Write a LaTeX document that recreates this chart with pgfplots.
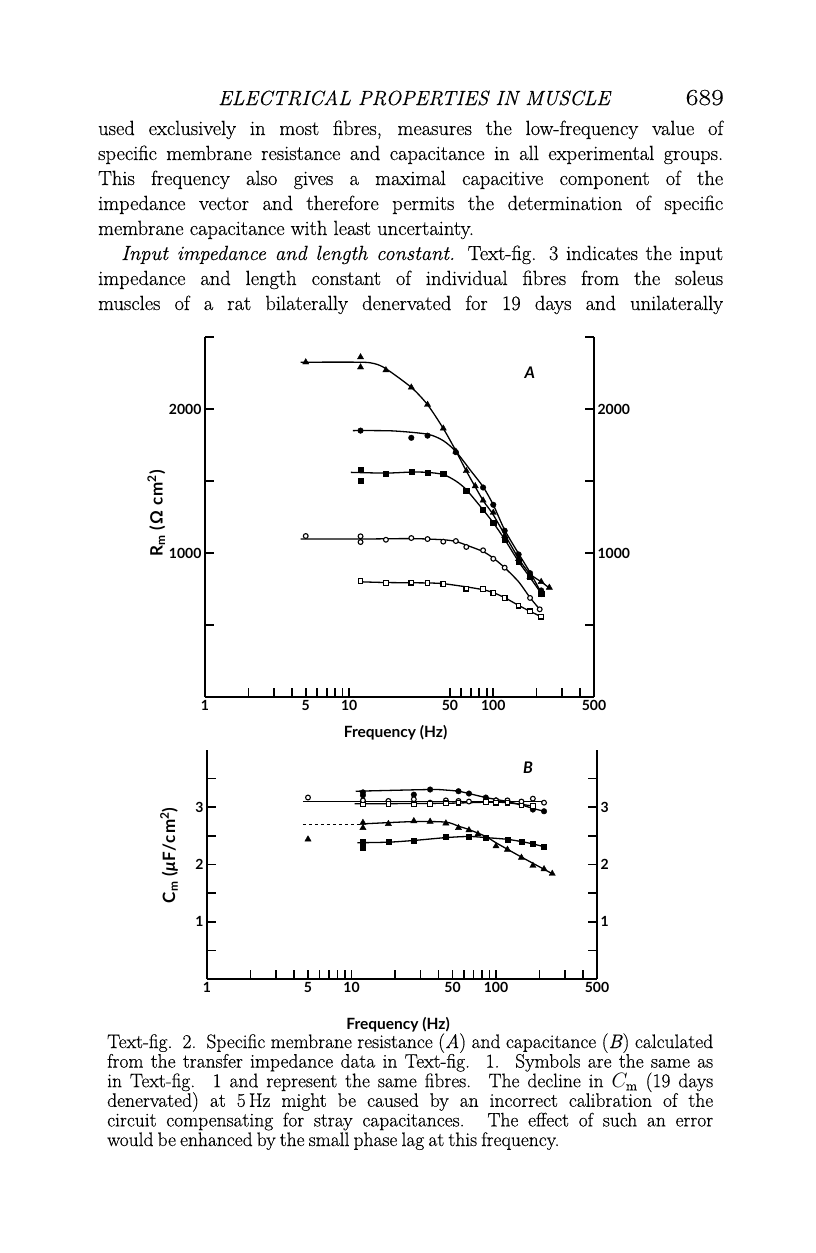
\documentclass[border=0pt]{standalone}
\usepackage{fontspec}
\usepackage{pgfplots}
\pgfplotsset{compat=1.18}
\setmainfont{Latin Modern Roman}[FakeBold=0.35]
\newfontfamily\capfont{Latin Modern Roman}[FakeBold=0.35, WordSpace=0.7]
\newfontfamily\pagenofont{Latin Modern Roman}[FakeBold=0.35, FakeStretch=1.2]
\newfontfamily\chartfont{Lato}
\newfontfamily\ylabfont{Lato}[LetterSpace=6]

% one line of justified body text: x, baseline y, width, text
\newcommand\jline[4]{\node[anchor=base west,inner sep=0pt] at (#1pt,-#2pt)
  {\fontsize{20.5}{25}\selectfont\hbox to #3pt{#4}};}
\newcommand\capline[4]{\node[anchor=base west,inner sep=0pt] at (#1pt,-#2pt)
  {\capfont\fontsize{19.5}{20}\selectfont\hbox to #3pt{#4}};}
\newcommand\cf{\chartfont\bfseries\fontsize{14}{14}\selectfont}
\newcommand\lf{\chartfont\bfseries\fontsize{15.5}{15.5}\selectfont}
\newcommand\yf{\ylabfont\bfseries\fontsize{17}{17}\selectfont}

\pgfplotsset{
  crv/.style={black, line width=1.3pt, smooth, tension=0.45, no marks},
  tri/.style={only marks, mark=triangle*, mark size=3.6pt, mark options={fill=black, draw=black}},
  dot/.style={only marks, mark=*, mark size=2.8pt, mark options={fill=black, draw=black}},
  sqr/.style={only marks, mark=square*, mark size=2.6pt, mark options={fill=black, draw=black}},
  odot/.style={only marks, mark=*, mark size=2.4pt, mark options={fill=white, draw=black, line width=1.1pt}},
  osqr/.style={only marks, mark=square*, mark size=2.3pt, mark options={fill=white, draw=black, line width=1.1pt}},
}

\begin{document}
\begin{tikzpicture}
\path[use as bounding box, fill=white] (0pt,0pt) rectangle (816pt,-1253pt);

% running head and text
\node[anchor=base west,inner sep=0pt] at (218pt,-105pt)
  {\fontsize{20.5}{20}\selectfont\itshape ELECTRICAL PROPERTIES IN MUSCLE};
\node[anchor=base east,inner sep=0pt] at (724pt,-105pt)
  {\pagenofont\fontsize{23}{20}\selectfont 689};
\jline{98}{135}{625}{used exclusively in most fibres, measures the low-frequency value of}
\jline{98}{160}{625}{specific membrane resistance and capacitance in all experimental groups.}
\jline{98}{185}{625}{This frequency also gives a maximal capacitive component of the}
\jline{98}{210}{625}{impedance vector and therefore permits the determination of specific}
\jline{98}{235}{625}{membrane capacitance with least uncertainty.\hfil}
\jline{121}{260}{602}{\textit{Input impedance and length constant.} Text-fig. 3 indicates the input}
\jline{98}{285}{625}{impedance and length constant of individual fibres from the soleus}
\jline{98}{310}{625}{muscles of a rat bilaterally denervated for 19 days and unilaterally}

% caption
\capline{107}{1048}{606}{Text-fig. 2. Specific membrane resistance (\textit{A}) and capacitance (\textit{B}) calculated}
\capline{107}{1067.6}{606}{from the transfer impedance data in Text-fig. 1. Symbols are the same as}
\capline{107}{1087.2}{606}{in Text-fig. 1 and represent the same fibres. The decline in $C_{\mathrm{m}}$ (19 days}
\capline{107}{1106.8}{606}{denervated) at 5\,Hz might be caused by an incorrect calibration of the}
\capline{107}{1126.4}{606}{circuit compensating for stray capacitances. The effect of such an error}
\capline{107}{1146}{606}{would be enhanced by the small phase lag at this frequency.\hfil}

% ---------------- A: membrane resistance
\begin{axis}[at={(205pt,-697pt)}, anchor=south west,
  scale only axis, width=389pt, height=360pt,
  xmode=log, xmin=1, xmax=500, ymin=0, ymax=2500,
  axis x line=bottom, axis y line=left,
  axis line style={-, line width=2pt},
  tick align=inside, major tick length=9pt,
  tick style={line width=1.7pt, black},
  xminorticks=false, yminorticks=false,
  ticklabel style={font=\cf},
  clip=false,
  xtick={1,2,3,4,5,6,7,8,9,10,50,60,70,80,90,100,200,300,400,500},
  xticklabels={1,,,,5,,,,,10,50,,,,,100,,,,500},
  ytick={500,1000,1500,2000,2500}, yticklabels={,1000,,2000,},
  xlabel={Frequency (Hz)}, ylabel={R\textsubscript{m} (Ω cm\textsuperscript{2})},
  xlabel style={font=\lf, at={(axis description cs:0.49,-0.068)}, anchor=north},
  ylabel style={font=\yf, at={(axis description cs:-0.125,0.51)}, anchor=center},
]
\addplot[crv] coordinates {(4.6,2325)(12,2325)(15,2315)(18,2280)(27,2150)(35,2030)(45,1865)(55,1710)(65,1570)(85,1365)(100,1265)(150,962)(180,855)(215,800)(245,757)};
\addplot[tri] coordinates {(5,2325)(12,2360)(12,2290)(18,2270)(27,2150)(35,2030)(45,1865)(55,1705)(65,1570)(75,1465)(85,1365)(100,1280)(120,1120)(150,960)(180,835)(215,800)(245,760)};
\addplot[crv] coordinates {(10.6,1850)(20,1848)(35,1825)(45,1780)(55,1705)(70,1570)(85,1460)(100,1335)(120,1160)(150,995)(180,865)(215,725)};
\addplot[dot] coordinates {(12,1850)(27,1800)(35,1815)(55,1700)(85,1455)(100,1335)(120,1155)(150,990)(180,860)(215,740)(215,715)};
\addplot[crv] coordinates {(10.3,1560)(18,1555)(27,1562)(35,1560)(45,1545)(55,1500)(65,1440)(85,1300)(100,1210)(120,1095)(150,940)(180,830)(215,720)};
\addplot[sqr] coordinates {(12,1580)(12,1500)(18,1553)(27,1562)(35,1560)(45,1550)(65,1435)(85,1300)(100,1210)(120,1095)(150,940)(180,835)(215,720)};
\addplot[crv] coordinates {(4.6,1097)(12,1097)(27,1100)(45,1092)(55,1080)(65,1055)(85,1010)(100,965)(120,898)(150,800)(180,690)(210,609)};
\addplot[odot] coordinates {(5,1118)(12,1116)(12,1076)(18,1092)(27,1104)(35,1097)(45,1079)(55,1083)(65,1042)(85,1019)(100,960)(120,898)(180,688)(210,609)};
\addplot[crv] coordinates {(12,800)(18,795)(35,792)(45,787)(65,765)(85,745)(100,725)(120,690)(150,636)(180,595)(215,558)};
\addplot[osqr] coordinates {(12,806)(18,792)(27,794)(35,792)(45,785)(65,752)(85,750)(100,724)(120,688)(150,634)(180,595)(215,558)};
\node[font=\chartfont\bfseries\itshape\fontsize{16}{16}\selectfont] at (rel axis cs:0.835,0.9) {A};
\end{axis}
\begin{axis}[at={(205pt,-697pt)}, anchor=south west,
  scale only axis, width=389pt, height=360pt,
  xmode=log, xmin=1, xmax=500, ymin=0, ymax=2500,
  axis x line=none, axis y line=right,
  axis line style={-, line width=2pt},
  tick align=inside, major tick length=9pt,
  tick style={line width=1.7pt, black},
  yminorticks=false, ticklabel style={font=\cf},
  ytick={500,1000,1500,2000,2500}, yticklabels={,1000,,2000,}]
\end{axis}

% ---------------- B: membrane capacitance
\begin{axis}[at={(207pt,-979pt)}, anchor=south west,
  scale only axis, width=390pt, height=229pt,
  xmode=log, xmin=1, xmax=500, ymin=0, ymax=4,
  axis x line=bottom, axis y line=left,
  axis line style={-, line width=2pt},
  tick align=inside, major tick length=9pt,
  tick style={line width=1.7pt, black},
  xminorticks=false, yminorticks=false,
  ticklabel style={font=\cf},
  clip=false,
  xtick={1,2,3,4,5,6,7,8,9,10,20,30,40,50,60,70,80,90,100,200,300,400,500},
  xticklabels={1,,,,5,,,,,10,,,,50,,,,,100,,,,500},
  ytick={0.5,1,1.5,2,2.5,3,3.5}, yticklabels={,1,,2,,3,},
  xlabel={Frequency (Hz)}, ylabel={C\textsubscript{m} (\textit{μ}F/cm\textsuperscript{2})},
  xlabel style={font=\lf, at={(axis description cs:0.49,-0.15)}, anchor=north},
  ylabel style={font=\yf, at={(axis description cs:-0.097,0.54)}, anchor=center},
]
\addplot[crv] coordinates {(10.7,3.28)(35,3.31)(45,3.30)(55,3.28)(65,3.24)(85,3.17)(120,3.10)(150,3.04)(180,2.98)(215,2.93)};
\addplot[dot] coordinates {(12,3.26)(12,3.21)(27,3.22)(35,3.31)(55,3.28)(65,3.24)(85,3.17)(100,3.12)(120,3.10)(150,3.05)(180,2.96)(215,2.93)};
\addplot[crv] coordinates {(4.6,3.10)(215,3.10)};
\addplot[odot] coordinates {(5,3.17)(12,3.12)(18,3.11)(27,3.14)(35,3.08)(45,3.12)(55,3.11)(65,3.10)(85,3.11)(100,3.12)(120,3.12)(150,3.10)(180,3.15)(215,3.08)};
\addplot[crv] coordinates {(10.5,3.06)(45,3.07)(100,3.09)(150,3.05)(180,3.02)};
\addplot[osqr] coordinates {(12,3.05)(18,3.06)(27,3.05)(35,3.06)(45,3.07)(55,3.08)(85,3.09)(100,3.08)(120,3.08)(150,3.03)(180,3.02)};
\addplot[black, line width=1.1pt, dashed] coordinates {(4.6,2.70)(12,2.70)};
\addplot[crv] coordinates {(12,2.71)(27,2.75)(45,2.74)(55,2.67)(65,2.61)(85,2.49)(100,2.38)(150,2.13)(245,1.84)};
\addplot[tri] coordinates {(5,2.44)(12,2.73)(12,2.64)(18,2.71)(27,2.76)(35,2.75)(45,2.72)(55,2.64)(65,2.60)(75,2.53)(100,2.32)(120,2.26)(150,2.12)(180,1.98)(215,1.92)(245,1.84)};
\addplot[crv] coordinates {(11,2.38)(18,2.39)(27,2.42)(45,2.47)(65,2.49)(85,2.47)(120,2.44)(150,2.40)(180,2.36)(215,2.31)};
\addplot[sqr] coordinates {(12,2.39)(12,2.29)(18,2.40)(27,2.42)(45,2.48)(65,2.48)(85,2.47)(120,2.44)(150,2.40)(180,2.37)(215,2.31)};
\node[font=\chartfont\bfseries\itshape\fontsize{16}{16}\selectfont] at (rel axis cs:0.823,0.923) {B};
\end{axis}
\begin{axis}[at={(207pt,-979pt)}, anchor=south west,
  scale only axis, width=390pt, height=229pt,
  xmode=log, xmin=1, xmax=500, ymin=0, ymax=4,
  axis x line=none, axis y line=right,
  axis line style={-, line width=2pt},
  tick align=inside, major tick length=9pt,
  tick style={line width=1.7pt, black},
  yminorticks=false, ticklabel style={font=\cf},
  ytick={0.5,1,1.5,2,2.5,3,3.5}, yticklabels={,1,,2,,3,}]
\end{axis}
\end{tikzpicture}
\end{document}
